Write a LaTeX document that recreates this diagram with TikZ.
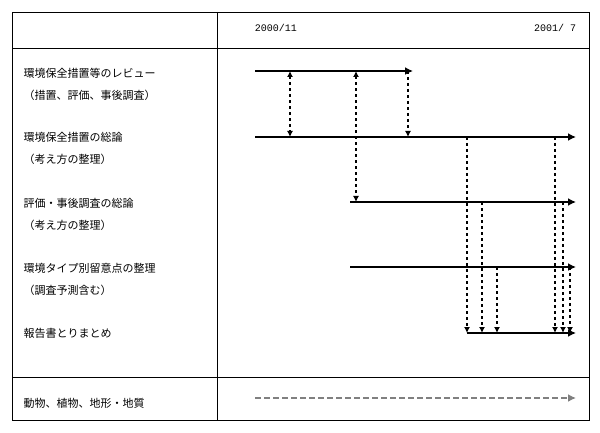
\documentclass[tikz,border=0pt]{standalone}
\usepackage{fontspec}
\newfontfamily\cjk{Noto Sans CJK JP}
\setmonofont{Liberation Mono}
\usetikzlibrary{arrows.meta}
\begin{document}
\begin{tikzpicture}[x=1pt,y=-1pt,
    label/.style={anchor=west, font=\cjk\fontsize{11}{22}\selectfont, align=left},
    datelabel/.style={font=\ttfamily\fontsize{10}{11}\selectfont},
    task/.style={line width=2.8pt, -{Latex[length=8pt,width=8pt]}},
    link/.style={dashed, line width=1.6pt, -{Latex[length=6pt,width=6pt]}},
    faint/.style={line width=2.8pt, gray, dash pattern=on 6pt off 3pt, -{Latex[length=8pt,width=8pt]}}]
  \useasboundingbox (0,0) rectangle (600,433);
  % frame
  \draw (12,12) rectangle (589,420);
  \draw (12,48) -- (589,48);
  \draw (12,377) -- (589,377);
  \draw (217,12) -- (217,420);
  \node[datelabel] (start) at (276,28) {2000/11};
  \node[datelabel] (end) at (555,28) {2001/ 7};
  % rows
  \node[label] (review) at (20,84) {環境保全措置等のレビュー\\（措置、評価、事後調査）};
  \node[label] (measure) at (20,148) {環境保全措置の総論\\（考え方の整理）};
  \node[label] (assess) at (20,214) {評価・事後調査の総論\\（考え方の整理）};
  \node[label] (type) at (20,279) {環境タイプ別留意点の整理\\（調査予測含む）};
  \node[label] (report) at (20,333) {報告書とりまとめ};
  \node[label] (fauna) at (20,403) {動物、植物、地形・地質};
  % bars
  \coordinate (a1) at (255,71);  \coordinate (a2) at (413,71);
  \coordinate (b1) at (255,137); \coordinate (b2) at (576,137);
  \coordinate (c1) at (350,202); \coordinate (c2) at (576,202);
  \coordinate (d1) at (350,267); \coordinate (d2) at (576,267);
  \coordinate (e1) at (467,333); \coordinate (e2) at (576,333);
  \coordinate (f1) at (255,398); \coordinate (f2) at (576,398);
  \draw[task] (a1) -- (a2);
  \draw[task] (b1) -- (b2);
  \draw[task] (c1) -- (c2);
  \draw[task] (d1) -- (d2);
  \draw[task] (e1) -- (e2);
  \draw[faint] (f1) -- (f2);
  % links
  \draw[link, {Latex[length=6pt,width=6pt]}-{Latex[length=6pt,width=6pt]}] (290,71) -- (290,137);
  \draw[link, {Latex[length=6pt,width=6pt]}-{Latex[length=6pt,width=6pt]}] (356,71) -- (356,202);
  \draw[link] (408,71) -- (408,137);
  \foreach \x/\y in {467/137, 482/202, 497/267, 555/137, 563/202, 570/267}
    \draw[link] (\x,\y) -- (\x,333);
\end{tikzpicture}
\end{document}
